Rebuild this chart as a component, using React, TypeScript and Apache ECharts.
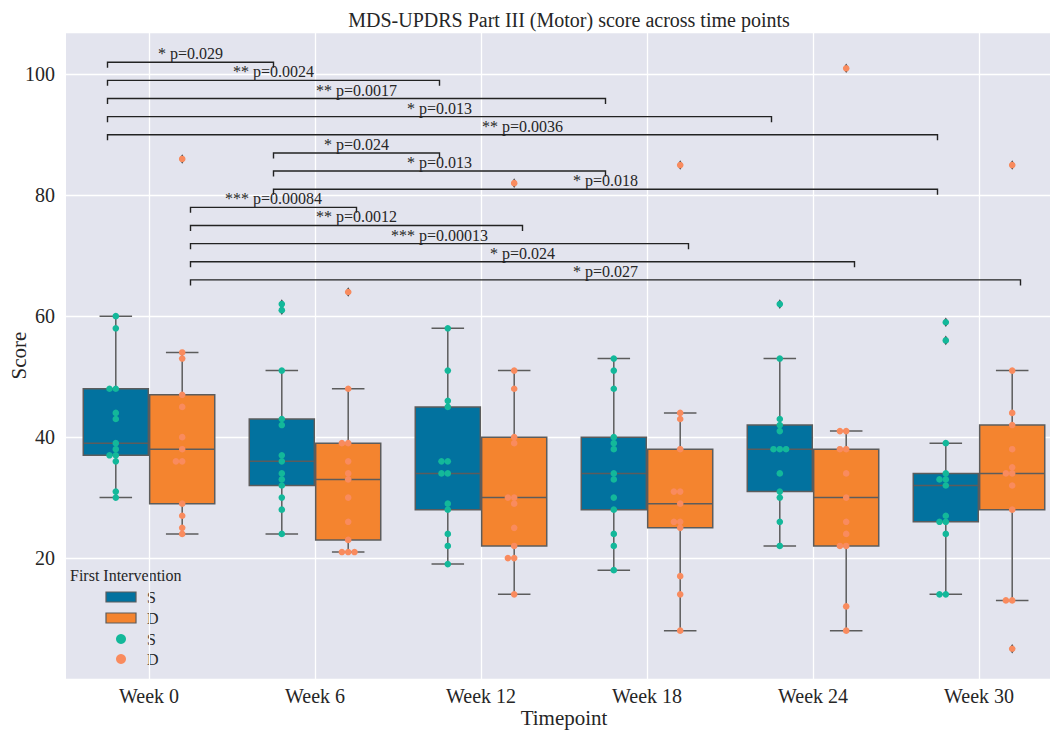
import React, { useEffect, useRef } from "react";
import * as echarts from "echarts";

// ---------- data ----------
const weeks = ["Week 0", "Week 6", "Week 12", "Week 18", "Week 24", "Week 30"];
const groupNames = ["S", "D"];

const sWeek0 = [60, 58, 48, 48, 44, 43, 39, 38, 37, 37, 36, 31, 30];
const sWeek6 = [62, 61, 51, 43, 42, 37, 36, 34, 33, 32, 30, 28, 24];
const sWeek12 = [58, 51, 46, 45, 36, 36, 34, 34, 29, 28, 24, 22, 19];
const sWeek18 = [53, 51, 48, 40, 39, 38, 34, 33, 30, 28, 24, 22, 18];
const sWeek24 = [62, 53, 43, 42, 41, 38, 38, 38, 34, 31, 30, 26, 22];
const sWeek30 = [59, 56, 39, 34, 33, 33, 32, 27, 26, 26, 24, 14, 14];

const dWeek0 = [86, 54, 53, 47, 45, 40, 38, 36, 36, 29, 27, 25, 24];
const dWeek6 = [64, 48, 39, 39, 36, 34, 33, 30, 26, 23, 21, 21, 21];
const dWeek12 = [82, 51, 48, 40, 39, 30, 30, 29, 25, 22, 20, 20, 14];
const dWeek18 = [85, 44, 43, 38, 31, 31, 29, 26, 26, 25, 17, 14, 8];
const dWeek24 = [101, 41, 41, 38, 38, 34, 30, 26, 24, 22, 22, 12, 8];
const dWeek30 = [85, 51, 44, 42, 38, 35, 34, 34, 32, 28, 13, 13, 5];

const sValues = [sWeek0, sWeek6, sWeek12, sWeek18, sWeek24, sWeek30];
const dValues = [dWeek0, dWeek6, dWeek12, dWeek18, dWeek24, dWeek30];

// significance brackets (group 0 = S, 1 = D)
const bracketStart = [0, 0, 0, 0, 0, 1, 1, 1, 0, 0, 0, 0, 0];
const bracketEnd = [1, 2, 3, 4, 5, 2, 3, 5, 1, 2, 3, 4, 5];
const bracketGroup = [0, 0, 0, 0, 0, 0, 0, 0, 1, 1, 1, 1, 1];
const bracketLevel = [102, 99, 96, 93, 90, 87, 84, 81, 78, 75, 72, 69, 66];
const bracketLabel = [
  "* p=0.029",
  "** p=0.0024",
  "** p=0.0017",
  "* p=0.013",
  "** p=0.0036",
  "* p=0.024",
  "* p=0.013",
  "* p=0.018",
  "*** p=0.00084",
  "** p=0.0012",
  "*** p=0.00013",
  "* p=0.024",
  "* p=0.027",
];

// ---------- styles ----------
const FONT = "'Liberation Serif', 'DejaVu Serif', serif";
const boxColors = ["#02729f", "#f4842f"];
const dotColors = ["#13b89a", "#f98b5e"];
const EDGE = "#5c5c5c";
const TEXT = "#262626";

function quantile(sorted: number[], p: number) {
  const pos = (sorted.length - 1) * p;
  const lo = Math.floor(pos);
  const hi = Math.ceil(pos);
  return sorted[lo] + (sorted[hi] - sorted[lo]) * (pos - lo);
}

function buildRows() {
  const boxRows: number[][] = [];
  const flierRows: number[][] = [];
  const dotRows: number[][] = [];
  [sValues, dValues].forEach((groupVals, g) => {
    groupVals.forEach((vals, w) => {
      const sorted = [...vals].sort((a, b) => a - b);
      const q1 = quantile(sorted, 0.25);
      const med = quantile(sorted, 0.5);
      const q3 = quantile(sorted, 0.75);
      const iqr = q3 - q1;
      const inside = sorted.filter((v) => v >= q1 - 1.5 * iqr && v <= q3 + 1.5 * iqr);
      const lo = Math.min(...inside);
      const hi = Math.max(...inside);
      boxRows.push([w, g, lo, q1, med, q3, hi]);
      sorted.forEach((v) => {
        if (v < q1 - 1.5 * iqr || v > q3 + 1.5 * iqr) flierRows.push([w, g, v]);
      });
      const counts: Record<number, number> = {};
      vals.forEach((v) => {
        const k = counts[v] || 0;
        counts[v] = k + 1;
        // swarm order: 0, -1, +1, -2, +2 ...
        const off = k === 0 ? 0 : k % 2 === 1 ? -Math.ceil(k / 2) : Math.ceil(k / 2);
        dotRows.push([w, g, v, off]);
      });
    });
  });
  return { boxRows, flierRows, dotRows };
}

export default function App() {
  const ref = useRef<HTMLDivElement>(null);
  useEffect(() => {
    if (!ref.current) return;
    const chart = echarts.init(ref.current, undefined, { renderer: "svg" });
    const { boxRows, flierRows, dotRows } = buildRows();
    const bracketRows = bracketStart.map((s, i) => [s, bracketEnd[i], bracketGroup[i], bracketLevel[i], i]);

    const centerX = (api: any, w: number, g: number, frac: number) => {
      const band = api.size([1, 0])[0];
      return api.coord([w, 0])[0] + (g === 0 ? -frac : frac) * band;
    };

    const legendY = [597, 618, 639, 659];
    const option: any = {
      animation: false,
      backgroundColor: "#ffffff",
      textStyle: { fontFamily: FONT },
      title: {
        text: "MDS-UPDRS Part III (Motor) score across time points",
        left: 564,
        top: 5,
        textAlign: "center",
        textStyle: { fontFamily: FONT, fontSize: 20, fontWeight: "normal", color: TEXT },
      },
      grid: {
        left: 66,
        top: 32,
        width: 996,
        height: 647,
        show: true,
        backgroundColor: "#e3e4ee",
        borderWidth: 0,
        containLabel: false,
        outerBoundsMode: "none",
      },
      xAxis: {
        type: "category",
        data: weeks,
        name: "Timepoint",
        nameLocation: "middle",
        nameGap: 28,
        nameMoveOverlap: false,
        nameTextStyle: { fontFamily: FONT, fontSize: 21, color: TEXT },
        axisLine: { show: false },
        axisTick: { show: false, alignWithLabel: true },
        axisLabel: { fontFamily: FONT, fontSize: 20, color: TEXT, margin: 7, interval: 0 },
        splitLine: { show: true, interval: 0, alignWithLabel: true, lineStyle: { color: "#ffffff", width: 1.3 } },
      },
      yAxis: {
        type: "value",
        min: 0,
        max: 107,
        interval: 20,
        name: "Score",
        nameLocation: "middle",
        nameGap: 37,
        nameMoveOverlap: false,
        nameTextStyle: { fontFamily: FONT, fontSize: 21, color: TEXT },
        axisLine: { show: false },
        axisTick: { show: false },
        axisLabel: { fontFamily: FONT, fontSize: 20, color: TEXT, margin: 11, showMinLabel: false, showMaxLabel: false },
        splitLine: { show: true, lineStyle: { color: "#ffffff", width: 1.3 } },
      },
      series: [
        {
          type: "custom",
          name: "boxes",
          data: boxRows,
          encode: { x: 0, y: [2, 3, 4, 5, 6] },
          z: 2,
          renderItem: (params: any, api: any) => {
            const w = api.value(0);
            const g = api.value(1);
            const band = api.size([1, 0])[0];
            const cx = centerX(api, w, g, 0.2);
            const bw = 0.4 * 0.98 * band;
            const y = (v: number) => api.coord([w, v])[1];
            const yLo = y(api.value(2));
            const yQ1 = y(api.value(3));
            const yMed = y(api.value(4));
            const yQ3 = y(api.value(5));
            const yHi = y(api.value(6));
            const ls = { stroke: EDGE, lineWidth: 1.5 };
            return {
              type: "group",
              children: [
                { type: "line", shape: { x1: cx, y1: yQ1, x2: cx, y2: yLo }, style: ls },
                { type: "line", shape: { x1: cx, y1: yQ3, x2: cx, y2: yHi }, style: ls },
                { type: "line", shape: { x1: cx - bw / 4, y1: yLo, x2: cx + bw / 4, y2: yLo }, style: ls },
                { type: "line", shape: { x1: cx - bw / 4, y1: yHi, x2: cx + bw / 4, y2: yHi }, style: ls },
                {
                  type: "rect",
                  shape: { x: cx - bw / 2, y: yQ3, width: bw, height: yQ1 - yQ3 },
                  style: { fill: boxColors[g], stroke: EDGE, lineWidth: 1.5 },
                },
                { type: "line", shape: { x1: cx - bw / 2, y1: yMed, x2: cx + bw / 2, y2: yMed }, style: ls },
              ],
            };
          },
        },
        {
          type: "custom",
          name: "fliers",
          data: flierRows,
          encode: { x: 0, y: 2 },
          z: 3,
          renderItem: (params: any, api: any) => {
            const w = api.value(0);
            const g = api.value(1);
            const cx = centerX(api, w, g, 0.2);
            const cy = api.coord([w, api.value(2)])[1];
            return {
              type: "polygon",
              shape: { points: [[cx, cy - 4.8], [cx + 3, cy], [cx, cy + 4.8], [cx - 3, cy]] },
              style: { fill: "#444444" },
            };
          },
        },
        {
          type: "custom",
          name: "points",
          data: dotRows,
          encode: { x: 0, y: 2 },
          z: 4,
          renderItem: (params: any, api: any) => {
            const w = api.value(0);
            const g = api.value(1);
            const cx = centerX(api, w, g, 0.2) + api.value(3) * 6.3;
            const cy = api.coord([w, api.value(2)])[1];
            return {
              type: "circle",
              shape: { cx, cy, r: 3.3 },
              style: { fill: dotColors[g] },
            };
          },
        },
        {
          type: "custom",
          name: "brackets",
          data: bracketRows,
          encode: { x: 0, y: 3 },
          z: 5,
          renderItem: (params: any, api: any) => {
            const s = api.value(0);
            const e = api.value(1);
            const g = api.value(2);
            const lvl = api.value(3);
            const idx = api.value(4);
            const x1 = centerX(api, s, g, 0.25);
            const x2 = centerX(api, e, g, 0.25);
            const yy = api.coord([s, lvl])[1];
            return {
              type: "group",
              children: [
                {
                  type: "polyline",
                  shape: { points: [[x1, yy + 5.5], [x1, yy], [x2, yy], [x2, yy + 5.5]] },
                  style: { stroke: "#222222", lineWidth: 1.4, fill: "none" },
                },
                {
                  type: "text",
                  x: (x1 + x2) / 2,
                  y: yy - 0.5,
                  style: {
                    text: bracketLabel[idx],
                    align: "center",
                    verticalAlign: "bottom",
                    fontFamily: FONT,
                    fontSize: 16,
                    fill: TEXT,
                  },
                },
              ],
            };
          },
        },
      ],
      graphic: [
        {
          type: "text",
          left: 70,
          top: 567,
          style: { text: "First Intervention", fontFamily: FONT, fontSize: 16, fill: TEXT },
        },
        {
          type: "rect",
          shape: { x: 106, y: legendY[0] - 5, width: 30, height: 10 },
          style: { fill: boxColors[0], stroke: EDGE, lineWidth: 1.2 },
        },
        {
          type: "rect",
          shape: { x: 106, y: legendY[1] - 5, width: 30, height: 10 },
          style: { fill: boxColors[1], stroke: EDGE, lineWidth: 1.2 },
        },
        { type: "circle", shape: { cx: 121, cy: legendY[2], r: 5 }, style: { fill: dotColors[0] } },
        { type: "circle", shape: { cx: 121, cy: legendY[3], r: 5 }, style: { fill: dotColors[1] } },
        ...groupNames.concat(groupNames).map((n, i) => ({
          type: "text",
          x: 147,
          y: legendY[i],
          style: { text: n, fontFamily: FONT, fontSize: 16, fill: TEXT, verticalAlign: "middle" },
        })),
      ],
    };
    chart.setOption(option);
    return () => chart.dispose();
  }, []);
  return (
    <div
      ref={ref}
      style={{ position: "absolute", left: 0, top: 0, width: 1050, height: 733 }}
    />
  );
}
